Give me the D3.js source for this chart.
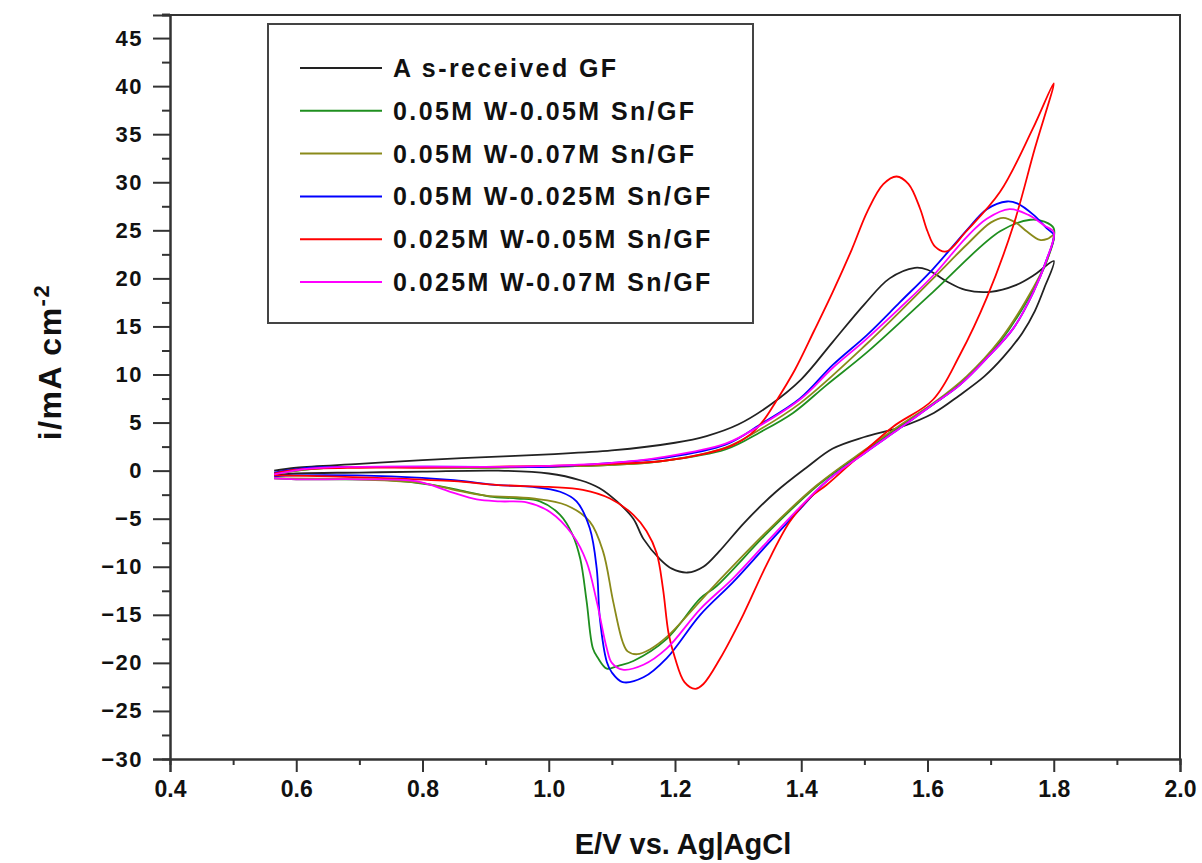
<!DOCTYPE html>
<html>
<head>
<meta charset="utf-8">
<script src="https://cdn.jsdelivr.net/npm/d3@7"></script>
<style>
  body { margin: 0; background: #fff; }
  svg { display: block; }
  .tick text { font-family: 'Liberation Sans', Arial, sans-serif; font-weight: bold; fill: #111; }
</style>
</head>
<body>
<div id="chart"></div>
<script>
// series names and colours (legend order)
const seriesNames = ['A s-received GF', '0.05M W-0.05M Sn/GF', '0.05M W-0.07M Sn/GF',
  '0.05M W-0.025M Sn/GF', '0.025M W-0.05M Sn/GF', '0.025M W-0.07M Sn/GF']
const seriesColors = ['#222222', '#1f8f1f', '#8a8a1a', '#0000ff', '#ff0000', '#ff00ff']

// potentials (V) and current densities (mA/cm2), anodic scan then cathodic scan
const blackE = [0.565, 0.6, 0.7, 0.8, 0.9, 1.0, 1.1, 1.2, 1.25, 1.3, 1.35, 1.4, 1.45, 1.5, 1.54, 1.58, 1.6, 1.63, 1.66, 1.7, 1.74, 1.77, 1.8,
  1.785, 1.77, 1.75, 1.72, 1.69, 1.65, 1.61, 1.556, 1.5, 1.45, 1.41, 1.36, 1.31, 1.27, 1.245, 1.22, 1.195, 1.176, 1.15, 1.134, 1.108, 1.08, 1.05, 1.0, 0.92, 0.8, 0.7, 0.6, 0.565]
const blackI = [0.0, 0.3, 0.7, 1.1, 1.4, 1.7, 2.1, 2.9, 3.6, 4.8, 6.8, 9.5, 13.4, 17.3, 20.0, 21.1, 20.9, 19.7, 18.8, 18.6, 19.3, 20.4, 21.8,
  19.0, 16.6, 14.3, 11.8, 9.8, 7.8, 6.0, 4.5, 3.5, 2.3, 0.4, -2.2, -5.4, -8.4, -10.0, -10.6, -10.2, -9.2, -7.1, -5.0, -3.2, -1.8, -1.0, -0.3, 0.0, -0.1, -0.2, -0.3, -0.5]

const greenE = [0.565, 0.65, 0.9, 1.0, 1.1, 1.18, 1.28, 1.335, 1.387, 1.44, 1.504, 1.609, 1.715, 1.763, 1.785, 1.8,
  1.79, 1.757, 1.715, 1.662, 1.609, 1.556, 1.504, 1.425, 1.346, 1.266, 1.24, 1.187, 1.134, 1.11, 1.092, 1.078, 1.07, 1.06, 1.05, 1.038, 1.018, 0.986, 0.95, 0.907, 0.87, 0.817, 0.75, 0.6, 0.565]
const greenI = [-0.3, 0.3, 0.3, 0.4, 0.6, 1.0, 2.2, 4.0, 6.0, 8.9, 12.3, 18.6, 24.9, 26.1, 25.9, 25.2,
  22.0, 17.6, 13.4, 9.6, 6.9, 4.6, 2.2, -1.6, -6.5, -12.0, -13.3, -17.5, -19.8, -20.3, -20.6, -19.5, -18.5, -13.6, -9.2, -6.7, -4.6, -3.2, -2.9, -2.7, -2.2, -1.5, -1.0, -0.9, -0.8]

const oliveE = [0.565, 0.65, 0.9, 1.0, 1.1, 1.18, 1.28, 1.335, 1.398, 1.504, 1.609, 1.662, 1.7, 1.72, 1.74, 1.757, 1.778, 1.79, 1.8,
  1.79, 1.757, 1.715, 1.662, 1.609, 1.556, 1.504, 1.425, 1.346, 1.266, 1.187, 1.16, 1.14, 1.125, 1.117, 1.102, 1.086, 1.065, 1.028, 0.975, 0.9, 0.85, 0.8, 0.7, 0.565]
const oliveI = [-0.3, 0.3, 0.3, 0.4, 0.6, 1.0, 2.4, 4.3, 7.0, 13.2, 20.0, 23.5, 25.8, 26.3, 25.8, 24.9, 24.0, 24.1, 24.5,
  22.0, 17.8, 13.6, 9.8, 7.0, 4.7, 2.3, -1.5, -6.3, -11.7, -17.3, -18.6, -19.1, -18.8, -17.8, -13.6, -8.4, -5.3, -3.6, -2.9, -2.6, -2.0, -1.3, -0.9, -0.8]

const blueE = [0.565, 0.62, 0.7, 0.9, 1.0, 1.1, 1.18, 1.28, 1.335, 1.398, 1.45, 1.504, 1.556, 1.609, 1.662, 1.694, 1.726, 1.742, 1.768, 1.789, 1.8,
  1.789, 1.768, 1.736, 1.694, 1.651, 1.609, 1.556, 1.504, 1.44, 1.398, 1.346, 1.292, 1.24, 1.187, 1.15, 1.117, 1.1, 1.092, 1.081, 1.076, 1.065, 1.044, 1.018, 0.975, 0.92, 0.85, 0.75, 0.6, 0.565]
const blueI = [-0.2, 0.3, 0.4, 0.4, 0.4, 0.8, 1.3, 2.7, 4.8, 7.5, 11.0, 14.1, 17.5, 21.0, 25.0, 27.2, 28.0, 27.8, 26.6, 25.2, 24.5,
  22.0, 18.6, 14.8, 11.7, 8.9, 6.9, 4.4, 2.0, -1.1, -4.0, -7.7, -11.6, -15.0, -19.5, -21.5, -22.0, -21.0, -19.9, -15.4, -10.2, -6.0, -3.2, -2.2, -1.7, -1.5, -1.0, -0.6, -0.5, -0.6]

const redE = [0.565, 0.6, 0.7, 0.8, 0.9, 1.0, 1.1, 1.18, 1.25, 1.29, 1.32, 1.34, 1.36, 1.39, 1.42, 1.45, 1.48, 1.505, 1.53, 1.551, 1.57, 1.588, 1.6, 1.612, 1.63, 1.66, 1.715, 1.767, 1.8,
  1.77, 1.736, 1.694, 1.651, 1.609, 1.546, 1.493, 1.44, 1.414, 1.382, 1.345, 1.308, 1.271, 1.245, 1.232, 1.215, 1.2, 1.19, 1.181, 1.171, 1.155, 1.134, 1.097, 1.054, 1.0, 0.92, 0.85, 0.75, 0.65, 0.565]
const redI = [-0.3, 0.1, 0.3, 0.3, 0.4, 0.5, 0.7, 1.0, 1.8, 2.6, 3.8, 5.2, 7.2, 10.5, 14.5, 18.6, 23.0, 27.0, 29.8, 30.6, 29.8, 27.3, 24.9, 23.3, 22.8, 24.8, 29.0, 35.6, 40.3,
  33.5, 25.5, 18.0, 12.0, 7.4, 4.6, 1.6, -1.5, -2.8, -5.3, -9.8, -15.0, -19.6, -22.2, -22.7, -22.0, -19.5, -17.0, -12.3, -8.6, -6.3, -4.6, -2.9, -2.0, -1.7, -1.5, -1.1, -0.8, -0.6, -0.5]

const magentaE = [0.565, 0.62, 0.7, 0.9, 1.0, 1.1, 1.18, 1.28, 1.335, 1.4, 1.45, 1.5, 1.556, 1.609, 1.662, 1.694, 1.73, 1.76, 1.785, 1.8,
  1.789, 1.768, 1.736, 1.694, 1.651, 1.609, 1.556, 1.504, 1.44, 1.398, 1.346, 1.292, 1.24, 1.187, 1.15, 1.117, 1.1, 1.092, 1.076, 1.06, 1.038, 1.002, 0.965, 0.923, 0.886, 0.844, 0.79, 0.7, 0.6, 0.565]
const magentaI = [-0.4, 0.2, 0.4, 0.4, 0.5, 0.8, 1.4, 2.8, 4.7, 7.5, 10.7, 13.5, 16.9, 20.3, 24.3, 26.2, 27.2, 26.6, 25.5, 24.8,
  22.0, 18.6, 14.8, 11.7, 8.9, 6.9, 4.4, 2.0, -1.1, -3.8, -7.4, -11.2, -14.4, -18.5, -20.2, -20.7, -20.0, -18.5, -13.6, -9.5, -6.7, -4.3, -3.3, -3.2, -3.0, -2.2, -1.1, -0.9, -0.9, -0.8]

// axis ticks
const xTicks = [0.4, 0.6, 0.8, 1.0, 1.2, 1.4, 1.6, 1.8, 2.0]
const xMinorTicks = [0.5, 0.7, 0.9, 1.1, 1.3, 1.5, 1.7, 1.9]
const yTicks = [-30, -25, -20, -15, -10, -5, 0, 5, 10, 15, 20, 25, 30, 35, 40, 45]
const yMinorTicks = [-27.5, -22.5, -17.5, -12.5, -7.5, -2.5, 2.5, 7.5, 12.5, 17.5, 22.5, 27.5, 32.5, 37.5, 42.5, 47.5]

const seriesE = [blackE, greenE, oliveE, blueE, redE, magentaE]
const seriesI = [blackI, greenI, oliveI, blueI, redI, magentaI]
const series = seriesNames.map((name, k) => ({
  name,
  color: seriesColors[k],
  points: seriesE[k].map((e, j) => [e, seriesI[k][j]])
}))

const width = 1202
const height = 863
const plot = { left: 170, right: 1180, top: 15, bottom: 759 }
const axisColor = '#333'

const svg = d3.select('#chart').append('svg')
  .attr('width', width)
  .attr('height', height)

const x = d3.scaleLinear().domain([0.4, 2.0]).range([plot.left, plot.right])
const y = d3.scaleLinear().domain([-30, 47.4]).range([plot.bottom, plot.top])

// frame
svg.append('path')
  .attr('d', `M${plot.left},${plot.top}H${plot.right}V${plot.bottom}`)
  .attr('fill', 'none')
  .attr('stroke', axisColor)
  .attr('stroke-width', 2)

// x axis
const gx = svg.append('g').attr('transform', `translate(0,${plot.bottom})`)
gx.call(d3.axisBottom(x).tickValues(xTicks).tickSize(13).tickPadding(9).tickFormat(d3.format('.1f')))
gx.append('g').call(d3.axisBottom(x).tickValues(xMinorTicks).tickSize(6).tickFormat(''))
gx.selectAll('.domain').attr('stroke', axisColor).attr('stroke-width', 2)
gx.selectAll('.tick line').attr('stroke', axisColor).attr('stroke-width', 2)
gx.selectAll('.tick text')
  .style('font-size', '23px')

// y axis
const gy = svg.append('g').attr('transform', `translate(${plot.left},0)`)
gy.call(d3.axisLeft(y).tickValues(yTicks).tickSize(17).tickPadding(10))
gy.append('g').call(d3.axisLeft(y).tickValues(yMinorTicks).tickSize(8).tickFormat(''))
gy.selectAll('.domain').attr('stroke', axisColor).attr('stroke-width', 2)
gy.selectAll('.tick line').attr('stroke', axisColor).attr('stroke-width', 2)
gy.selectAll('.tick text')
  .style('font-size', '22px')
  .style('letter-spacing', '1.5px')

// curves
const line = d3.line()
  .x(d => x(d[0]))
  .y(d => y(d[1]))
  .curve(d3.curveCatmullRom.alpha(0.5))

svg.append('g')
  .selectAll('path')
  .data(series)
  .join('path')
  .attr('d', d => line(d.points))
  .attr('fill', 'none')
  .attr('stroke', d => d.color)
  .attr('stroke-width', 1.8)
  .attr('stroke-linejoin', 'round')

// legend
const legend = svg.append('g')
legend.append('rect')
  .attr('x', 268)
  .attr('y', 24)
  .attr('width', 485)
  .attr('height', 299)
  .attr('fill', '#fff')
  .attr('stroke', '#444')
  .attr('stroke-width', 2)

const rows = legend.selectAll('g.row')
  .data(series)
  .join('g')
  .attr('class', 'row')
  .attr('transform', (d, k) => `translate(300,${68 + k * 42.8})`)
rows.append('line')
  .attr('x1', 0)
  .attr('x2', 82)
  .attr('stroke', d => d.color)
  .attr('stroke-width', 2)
rows.append('text')
  .attr('x', 93)
  .attr('dy', '0.36em')
  .style('font-family', "'Liberation Sans', Arial, sans-serif")
  .style('font-weight', 'bold')
  .style('font-size', '25px')
  .style('letter-spacing', '2.4px')
  .attr('fill', '#111')
  .text(d => d.name)

// axis titles
svg.append('text')
  .attr('x', (plot.left + plot.right) / 2 + 8)
  .attr('y', 854)
  .attr('text-anchor', 'middle')
  .style('font-family', "'Liberation Sans', Arial, sans-serif")
  .style('font-weight', 'bold')
  .style('font-size', '29px')
  .attr('fill', '#111')
  .text('E/V vs. Ag|AgCl')

const yTitle = svg.append('text')
  .attr('transform', 'translate(61,362) rotate(-90)')
  .attr('text-anchor', 'middle')
  .style('font-family', "'Liberation Sans', Arial, sans-serif")
  .style('font-weight', 'bold')
  .style('font-size', '32px')
  .style('letter-spacing', '1.5px')
  .attr('fill', '#111')
yTitle.append('tspan').text('i/mA cm')
yTitle.append('tspan')
  .attr('dy', '-0.55em')
  .style('font-size', '22px')
  .text('-2')
</script>
</body>
</html>
